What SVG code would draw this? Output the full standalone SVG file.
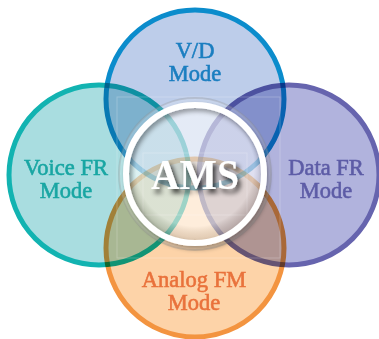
<svg xmlns="http://www.w3.org/2000/svg" width="379" height="339" viewBox="0 0 379 339">
<defs>
<style>
.c{mix-blend-mode:multiply;stroke-width:5}
.lbl{font-family:"Liberation Serif","Times New Roman",serif;font-size:22.5px;text-anchor:middle;stroke-width:0.6}
.grid{fill:none;stroke:#ffffff;stroke-opacity:0.22;stroke-width:1}
</style>
<filter id="sh" x="-30%" y="-30%" width="160%" height="160%">
<feGaussianBlur in="SourceAlpha" stdDeviation="2.5"/>
<feOffset dx="2" dy="3" result="b"/>
<feComponentTransfer><feFuncA type="linear" slope="0.4"/></feComponentTransfer>
<feMerge><feMergeNode/><feMergeNode in="SourceGraphic"/></feMerge>
</filter>
<filter id="tsh" x="-30%" y="-30%" width="170%" height="180%">
<feGaussianBlur in="SourceAlpha" stdDeviation="2.5"/>
<feOffset dx="3" dy="4"/>
<feComponentTransfer><feFuncA type="linear" slope="0.75"/></feComponentTransfer>
<feMerge><feMergeNode/><feMergeNode in="SourceGraphic"/></feMerge>
</filter>
<radialGradient id="glass" cx="0.5" cy="0.45" r="0.55">
<stop offset="0.8" stop-color="#ffffff" stop-opacity="0.5"/>
<stop offset="1" stop-color="#a0a0a0" stop-opacity="0.3"/>
</radialGradient>
</defs>
<rect width="379" height="339" fill="#ffffff"/>
<g id="vd-mode">
<circle class="c" cx="195" cy="99" r="89" fill="#bdcdea" stroke="#0b8ccc"/>
</g>
<g id="voice-fr-mode">
<circle class="c" cx="99" cy="175" r="90" fill="#a9dde0" stroke="#12b3b1"/>
</g>
<g id="data-fr-mode">
<circle class="c" cx="289" cy="175" r="90" fill="#b1b3dd" stroke="#6664ae"/>
</g>
<g id="analog-fm-mode">
<circle class="c" cx="195" cy="248" r="89" fill="#fdd3a8" stroke="#f39440"/>
</g>
<g id="grid">
<rect class="grid" x="117" y="97" width="163" height="161"/>
<rect class="grid" x="143" y="153" width="104" height="62"/>
</g>
<g id="ams">
<circle cx="195" cy="174" r="76" fill="#ffffff" fill-opacity="0.18" stroke="#8f8f8f" stroke-opacity="0.3" stroke-width="2"/>
<circle cx="195" cy="174" r="67" fill="url(#glass)"/>
<circle cx="195" cy="174" r="69" fill="none" stroke="#ffffff" stroke-width="6" filter="url(#sh)"/>
<text x="195" y="189" font-family="'Liberation Serif','Times New Roman',serif" font-size="43" font-weight="bold" fill="#ffffff" text-anchor="middle" textLength="88" lengthAdjust="spacingAndGlyphs" filter="url(#tsh)">AMS</text>
</g>
<g id="labels">
<text class="lbl" fill="#1b7ec0" stroke="#1b7ec0"><tspan x="195" y="58">V/D</tspan><tspan x="195" y="81">Mode</tspan></text>
<text class="lbl" fill="#19a6a3" stroke="#19a6a3"><tspan x="66" y="175">Voice FR</tspan><tspan x="66" y="198">Mode</tspan></text>
<text class="lbl" fill="#5d5ca6" stroke="#5d5ca6"><tspan x="326" y="175">Data FR</tspan><tspan x="326" y="198">Mode</tspan></text>
<text class="lbl" fill="#e9723c" stroke="#e9723c"><tspan x="194" y="287">Analog FM</tspan><tspan x="194" y="310">Mode</tspan></text>
</g>
</svg>
